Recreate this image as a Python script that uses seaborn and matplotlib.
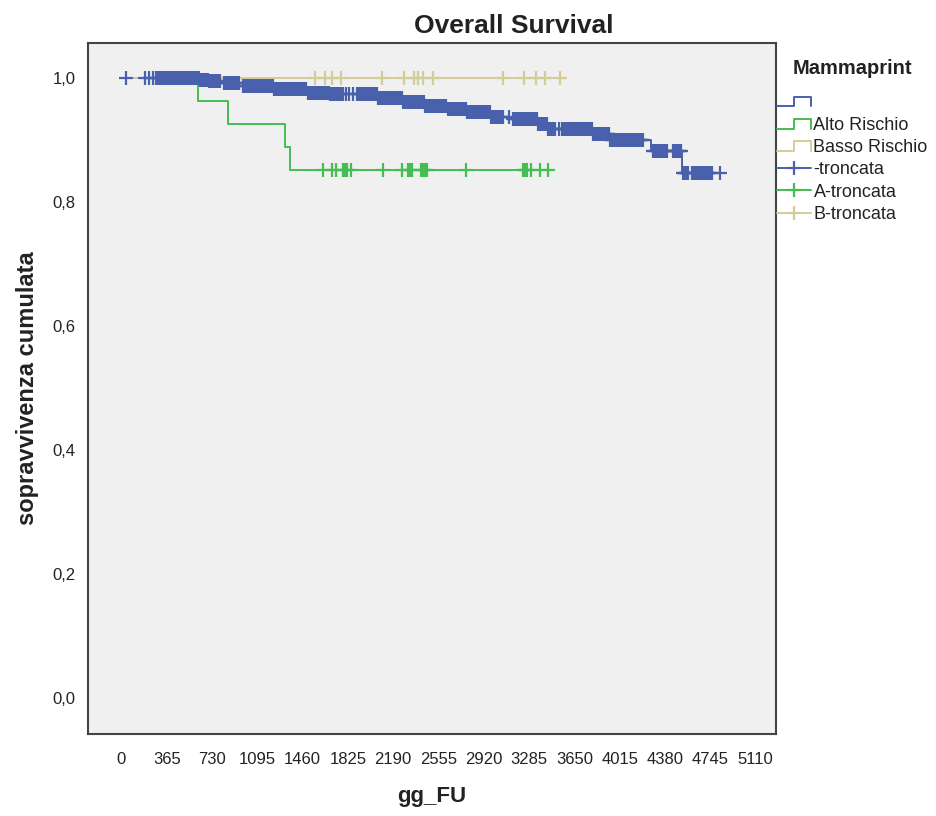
import numpy as np
import pandas as pd
import matplotlib
matplotlib.use("Agg")
import matplotlib.pyplot as plt
from matplotlib.lines import Line2D
from matplotlib.legend_handler import HandlerBase
import seaborn as sns

# ---------------- data ----------------
# x axis ticks (days of follow-up)
x_ticks = [0, 365, 730, 1095, 1460, 1825, 2190, 2555, 2920, 3285, 3650, 4015, 4380, 4745, 5110]
y_ticks = [0.0, 0.2, 0.4, 0.6, 0.8, 1.0]
y_tick_labels = ["0,0", "0,2", "0,4", "0,6", "0,8", "1,0"]

group_labels = ["", "Alto Rischio", "Basso Rischio"]
censor_labels = ["-troncata", "A-troncata", "B-troncata"]

# Mammaprint missing: Kaplan-Meier step knots (day, cumulative survival)
blue_step_days = [0, 633, 698, 819, 980, 1223, 1497, 1680, 2059, 2260, 2446, 2623,
                  2784, 2970, 3155, 3356, 3429, 3791, 3936, 4266, 4516]
blue_step_surv = [1.000, 0.998, 0.996, 0.993, 0.987, 0.982, 0.977, 0.974, 0.968, 0.961,
                  0.956, 0.951, 0.945, 0.938, 0.934, 0.927, 0.918, 0.910, 0.900, 0.883, 0.847]
blue_censored = [
    35, 190, 222, 252, 279,
    297, 306, 316, 327, 336, 346, 357, 366, 377, 386, 396, 407, 416, 426, 437, 446,
    457, 466, 476, 487, 496, 506, 517, 526, 537, 546, 556, 567, 576, 586, 597, 606,
    617, 626, 636, 647, 656, 666, 677, 686, 697, 706, 716, 727, 736, 746, 757, 766,
    777, 786, 795,
    826, 836, 845, 856, 866, 875, 886, 896, 905, 916, 926, 935, 946,
    980, 990, 1000, 1010, 1019, 1030, 1040, 1050, 1060, 1069, 1080, 1090, 1100, 1110,
    1119, 1130, 1140, 1150, 1160, 1169, 1180, 1190, 1200, 1210, 1219, 1230, 1240, 1250,
    1260, 1269, 1280, 1290, 1300, 1310, 1319, 1330, 1340, 1350, 1360, 1369, 1380, 1390,
    1400, 1410, 1419, 1430, 1440, 1450, 1460, 1469, 1480, 1490, 1500, 1510, 1519, 1530,
    1540, 1550, 1560, 1569, 1580, 1590, 1600, 1610, 1619, 1630, 1640, 1650, 1660, 1669,
    1680, 1690, 1700, 1710, 1719, 1730, 1740, 1750, 1760, 1769, 1778, 1786,
    1807, 1834, 1868,
    1898, 1908, 1918, 1928, 1937, 1948, 1958, 1968, 1978, 1987, 1998, 2008, 2018, 2028,
    2037, 2048, 2058, 2068, 2078, 2087, 2098, 2108, 2118, 2128, 2137, 2148, 2158, 2168,
    2178, 2187, 2198, 2208, 2218, 2228, 2237, 2248, 2258, 2268, 2278, 2287, 2298, 2308,
    2318, 2328, 2337, 2348, 2358, 2368, 2378, 2387, 2398, 2408, 2418, 2428, 2437, 2448,
    2458, 2468, 2478, 2487, 2498, 2508, 2518, 2528, 2537, 2548, 2558, 2568, 2578, 2587,
    2598, 2608, 2618, 2628, 2637, 2648, 2658, 2668, 2678, 2687, 2698, 2708, 2718, 2728,
    2737, 2748, 2758, 2768, 2778, 2787, 2798, 2808, 2818, 2828, 2837, 2848, 2858, 2868,
    2878, 2887, 2898, 2908, 2918, 2928, 2937, 2948, 2958, 2968, 2978, 2987, 2998, 3008,
    3018, 3028, 3037, 3048, 3058, 3068, 3075,
    3119,
    3157, 3167, 3177, 3187, 3196, 3207, 3217, 3227, 3237, 3246, 3257, 3267, 3277, 3287,
    3296, 3307, 3317, 3327, 3337, 3346, 3357, 3367, 3377, 3387, 3396, 3407, 3417, 3427,
    3437, 3446, 3457, 3467, 3477, 3486, 3493,
    3525,
    3549, 3559, 3569, 3579, 3588, 3599, 3609, 3619, 3629, 3638, 3649, 3659, 3669, 3679,
    3688, 3699, 3709, 3719, 3729, 3738, 3749, 3759, 3769, 3779, 3788, 3799, 3809, 3819,
    3829, 3838, 3849, 3859, 3869, 3879, 3888, 3899, 3909, 3919, 3929, 3938, 3949, 3959,
    3969, 3979, 3988, 3999, 4009, 4019, 4029, 4038, 4049, 4059, 4069, 4079, 4088, 4099,
    4109, 4119, 4129, 4138, 4149, 4159, 4169, 4179, 4188, 4196, 4202,
    4283, 4293, 4303, 4313, 4322, 4333, 4343, 4353, 4363, 4372, 4383, 4390, 4396,
    4444, 4454, 4464, 4474, 4484, 4494, 4502, 4508,
    4522, 4531, 4541, 4551, 4560, 4565,
    4597, 4607, 4617, 4627, 4636, 4647, 4657, 4667, 4677, 4686, 4697, 4707, 4717, 4727,
    4736, 4747, 4758,
    4822,
]

# Alto Rischio: 27 patients, 4 deaths
green_n = 27
green_events = [615, 859, 1318, 1358]
green_censored = [1624, 1697, 1729, 1785, 1802, 1818, 1850, 2107, 2260, 2309, 2325, 2341,
                  2414, 2430, 2446, 2462, 2776, 3236, 3252, 3268, 3300, 3373, 3437]

# Basso Rischio: 15 patients, no deaths
beige_n = 15
beige_events = []
beige_censored = [1560, 1640, 1697, 1769, 2099, 2277, 2357, 2390, 2430, 2510, 3074,
                  3243, 3340, 3413, 3533]

colors = ["#4960AC", "#45BD52", "#D4CC98"]


# ---------------- helpers ----------------
def km_curve(events, censored, n):
    """Kaplan-Meier product-limit estimate as step knots."""
    times = sorted(set(events))
    at_risk = n
    s = 1.0
    days, surv = [0], [1.0]
    all_obs = sorted([(t, 1) for t in events] + [(t, 0) for t in censored])
    idx = 0
    for t in times:
        while idx < len(all_obs) and all_obs[idx][0] < t:
            at_risk -= 1
            idx += 1
        d = sum(1 for e in events if e == t)
        s *= (at_risk - d) / at_risk
        days.append(t)
        surv.append(s)
    return days, surv


def step_frame(days, surv, last_day):
    d = list(days) + [last_day]
    s = list(surv) + [surv[-1]]
    return pd.DataFrame({"day": d, "surv": s})


def censor_frame(days, surv, censored):
    d = np.asarray(days)
    s = np.asarray(surv)
    c = np.asarray(censored)
    idx = np.searchsorted(d, c, side="right") - 1
    return pd.DataFrame({"day": c, "surv": s[idx]})


green_days, green_surv = km_curve(green_events, green_censored, green_n)
beige_days, beige_surv = km_curve(beige_events, beige_censored, beige_n)

curves = [
    (blue_step_days, blue_step_surv, blue_censored),
    (green_days, green_surv, green_censored),
    (beige_days, beige_surv, beige_censored),
]

# ---------------- figure ----------------
sns.set_theme(style="white")
plt.rcParams["font.family"] = ["Liberation Sans", "DejaVu Sans"]

fig = plt.figure(figsize=(9.37, 8.16), dpi=100)
ax = fig.add_axes([0.0942, 0.1005, 0.734, 0.8472])
ax.set_facecolor("#F0F0F0")

lw = 1.4
for (days, surv, cens), col in zip(curves, colors):
    df = step_frame(days, surv, max(cens))
    sns.lineplot(data=df, x="day", y="surv", drawstyle="steps-post", estimator=None,
                 sort=False, color=col, linewidth=lw, ax=ax, legend=False, zorder=2)

for (days, surv, cens), col in zip(curves, colors):
    cf = censor_frame(days, surv, cens)
    sns.scatterplot(data=cf, x="day", y="surv", marker="+", s=110, color=col,
                    linewidth=1.6, ax=ax, legend=False, zorder=3)

ax.set_xlim(-267, 5274)
ax.set_ylim(-0.0574, 1.0574)
ax.set_xticks(x_ticks)
ax.set_xticklabels([str(t) for t in x_ticks])
ax.set_yticks(y_ticks)
ax.set_yticklabels(y_tick_labels)
ax.tick_params(axis="both", direction="out", length=6, width=1.3, color="#333333",
               labelsize=12, labelcolor="#222222", pad=3)
ax.tick_params(axis="x", pad=7)
for sp in ax.spines.values():
    sp.set_color("#444444")
    sp.set_linewidth(1.5)

ax.set_xlabel("gg_FU", fontsize=16, fontweight="bold", color="#222222", labelpad=14)
ax.set_ylabel("sopravvivenza cumulata", fontsize=17, fontweight="bold", color="#222222",
              labelpad=10)
ax.set_title("Overall Survival", fontsize=19, fontweight="bold", color="#222222",
             x=0.619, pad=7)


# legend with step-shaped icons for the groups and "+" icons for censored cases
class StepIcon(HandlerBase):
    def create_artists(self, legend, orig_handle, xdescent, ydescent, width, height,
                       fontsize, trans):
        x0, y0 = -xdescent, -ydescent
        xs = [x0, x0 + 0.5 * width, x0 + 0.5 * width, x0 + width, x0 + width]
        ys = [y0 + 0.1 * height, y0 + 0.1 * height, y0 + 0.85 * height,
              y0 + 0.85 * height, y0 + 0.1 * height]
        ln = Line2D(xs, ys, color=orig_handle.get_color(),
                    linewidth=orig_handle.get_linewidth())
        ln.set_transform(trans)
        return [ln]


step_handles = [Line2D([], [], color=c, linewidth=lw) for c in colors]
cens_handles = [Line2D([], [], color=c, linewidth=lw, marker="+", markersize=9.5,
                       markeredgewidth=1.6) for c in colors]
handler_map = {h: StepIcon() for h in step_handles}

leg = ax.legend(step_handles + cens_handles, group_labels + censor_labels,
                handler_map=handler_map, loc="upper left",
                bbox_to_anchor=(777 / 937, 1 - 59 / 816), bbox_transform=fig.transFigure,
                frameon=False, fontsize=13, title="Mammaprint",
                title_fontproperties={"size": 14.5, "weight": "bold"},
                handlelength=1.9, handletextpad=0.12, labelspacing=0.29,
                borderpad=0, borderaxespad=0, numpoints=1)
leg._legend_box.sep = 12
for t in leg.get_texts():
    t.set_color("#222222")
leg.get_title().set_color("#222222")

fig.savefig("out.png", dpi=100)
